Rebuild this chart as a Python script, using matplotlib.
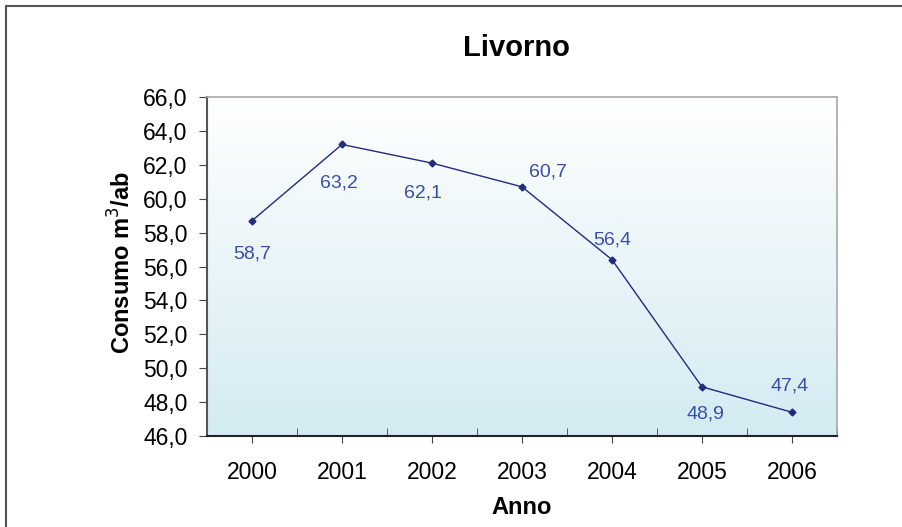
import numpy as np
import matplotlib.pyplot as plt
from matplotlib.colors import LinearSegmentedColormap
from matplotlib.lines import Line2D

plt.rcParams['font.family'] = ['Liberation Sans', 'DejaVu Sans']

anni = ['2000', '2001', '2002', '2003', '2004', '2005', '2006']
consumo = [58.7, 63.2, 62.1, 60.7, 56.4, 48.9, 47.4]
# offset (pixels) of each data label from its point
label_dx = [0, -3, -9, 26, 0, 3, -2]
label_dy = [-33, -39, -30, 15, 20, -27, 26]

fig = plt.figure(figsize=(9.03, 5.27), dpi=100)
ax = fig.add_axes([207 / 903, 1 - 436 / 527, 630 / 903, 339 / 527])

x = np.arange(len(anni))

# gradient background of the plot area (white on top, light blue at bottom)
grad = LinearSegmentedColormap.from_list('bg', ['#ffffff', '#d3ebf2'])
ax.imshow(np.linspace(0, 1, 256).reshape(-1, 1), cmap=grad, aspect='auto',
          extent=(-0.5, 6.5, 46, 66), origin='upper', zorder=0)

ax.plot(x, consumo, color='#232b7c', lw=1, marker='D', markersize=3.5, zorder=3)

for xi, v, dx, dy in zip(x, consumo, label_dx, label_dy):
    ax.annotate(f'{v:.1f}'.replace('.', ','), (xi, v), xytext=(dx, dy),
                textcoords='offset pixels', ha='center', va='center',
                fontsize=14, color='#3a4ea6')

ax.set_xlim(-0.5, 6.5)
ax.set_ylim(46, 66)
ax.set_yticks(np.arange(46, 67, 2))
ax.set_yticklabels([f'{t:.1f}'.replace('.', ',') for t in np.arange(46, 67, 2)], fontsize=16.5)
ax.set_xticks(x)
ax.set_xticklabels(anni, fontsize=16.5)
ax.set_xticks(np.arange(-0.5, 7, 1), minor=True)
ax.tick_params(axis='x', which='major', direction='out', length=5, pad=13, color='#444444')
ax.tick_params(axis='x', which='minor', direction='in', length=6, color='#444444')
ax.tick_params(axis='y', direction='out', length=6, pad=8, color='#444444')

ax.spines['left'].set_color('#555555')
ax.spines['left'].set_linewidth(1.5)
ax.spines['bottom'].set_color('#222222')
ax.spines['bottom'].set_linewidth(1.5)
for s in ['top', 'right']:
    ax.spines[s].set_color('#a8a8a8')
    ax.spines[s].set_linewidth(1.2)

fig.text(516 / 903, 1 - 48 / 527, 'Livorno', ha='center', va='center',
         fontsize=21, fontweight='bold')
fig.text(522 / 903, 1 - 508 / 527, 'Anno', ha='center', va='center',
         fontsize=17, fontweight='bold')
fig.text(122 / 903, 1 - 262 / 527, 'Consumo m$^3$/ab', ha='center', va='center',
         rotation=90, fontsize=17, fontweight='bold')

# outer chart frame (left and top edges visible)
fig.add_artist(Line2D([6 / 903, 6 / 903], [0, 1 - 6 / 527], color='#555555', lw=1.5))
fig.add_artist(Line2D([6 / 903, 1], [1 - 6 / 527, 1 - 6 / 527], color='#555555', lw=1.5))

fig.savefig('out.png', dpi=100)
